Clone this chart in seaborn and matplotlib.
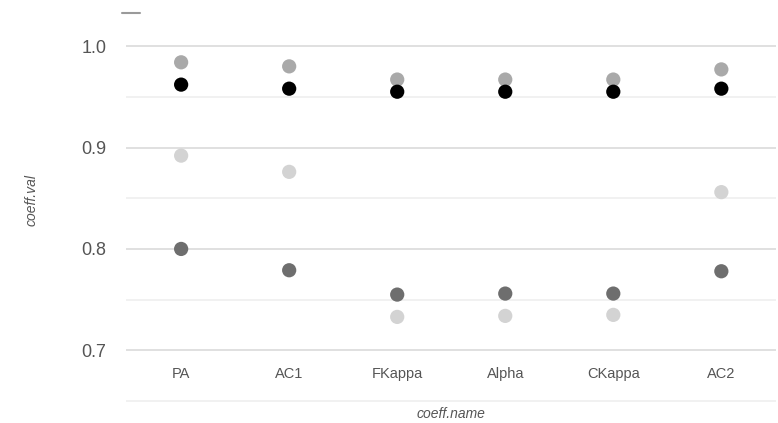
import numpy as np
import pandas as pd
import matplotlib
matplotlib.use("Agg")
import matplotlib.pyplot as plt
from matplotlib.ticker import MultipleLocator
import seaborn as sns

# values
coeff_names = ["PA", "AC1", "FKappa", "Alpha", "CKappa", "AC2"]
series_a = [0.984, 0.980, 0.967, 0.967, 0.967, 0.977]   # mid grey
series_b = [0.962, 0.958, 0.955, 0.955, 0.955, 0.958]   # black
series_c = [0.892, 0.876, 0.733, 0.734, 0.735, 0.856]   # light grey
series_d = [0.800, 0.779, 0.755, 0.756, 0.756, 0.778]   # dark grey
series_names = ["a", "b", "c", "d"]
palette = {"a": "#a9a9a9", "b": "#000000", "c": "#d3d3d3", "d": "#6e6e6e"}

df = pd.DataFrame({
    "coeff.name": coeff_names * 4,
    "coeff.val": series_a + series_b + series_c + series_d,
    "series": np.repeat(series_names, len(coeff_names)),
})

sns.set_style("white")
plt.rcParams["font.family"] = ["Liberation Sans", "DejaVu Sans"]

fig = plt.figure(figsize=(7.78, 4.23), dpi=100)
ax = fig.add_axes([0.162, 0.041, 0.836, 0.934])

sns.scatterplot(data=df, x="coeff.name", y="coeff.val", hue="series",
                palette=palette, s=105, linewidth=0, legend=False, ax=ax,
                zorder=3)

ax.set_xlim(-0.51, 5.51)
ax.set_ylim(0.6455, 1.035)
ax.yaxis.set_major_locator(MultipleLocator(0.1))
ax.yaxis.set_minor_locator(MultipleLocator(0.05))
ax.yaxis.set_major_formatter(lambda v, p: f"{v:.1f}")
ax.grid(axis="y", which="major", color="#e0e0e0", linewidth=1.4)
ax.grid(axis="y", which="minor", color="#eeeeee", linewidth=1.1)
ax.grid(axis="x", visible=False)
ax.set_axisbelow(True)
for sp in ax.spines.values():
    sp.set_visible(False)

ax.tick_params(axis="y", which="both", length=0, pad=14, labelsize=13, labelcolor="#555555")
ax.tick_params(axis="x", length=0, pad=-28, labelsize=10.5, labelcolor="#555555")

ax.set_xlabel("coeff.name", fontsize=10, fontstyle="italic", color="#555555")
ax.xaxis.set_label_coords(0.5, -0.02)
ax.xaxis.label.set_verticalalignment("center")
ax.set_ylabel("coeff.val", fontsize=10, fontstyle="italic", color="#555555")
ax.yaxis.set_label_coords(-0.145, 0.52)
ax.yaxis.label.set_verticalalignment("center")

# small grey dash at the top left of the reference
fig.add_artist(plt.Line2D([122 / 778, 140 / 778], [1 - 13 / 423, 1 - 13 / 423],
                          color="#9a9a9a", linewidth=1.5))

fig.savefig("out.png", dpi=100)
